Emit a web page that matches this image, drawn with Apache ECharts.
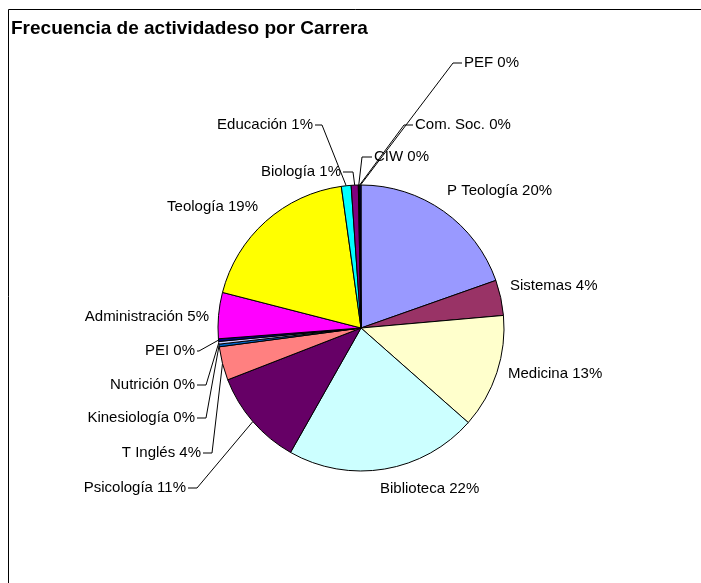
<!DOCTYPE html>
<html>
<head>
<meta charset="utf-8">
<script src="https://cdn.jsdelivr.net/npm/echarts@6/dist/echarts.min.js"></script>
<style>
  html, body { margin: 0; padding: 0; background: #fff; }
  #main { width: 701px; height: 583px; }
</style>
</head>
<body>
<div id="main"></div>
<script>
// carreras, en orden horario desde las 12
var carreras = ['P Teología', 'Sistemas', 'Medicina', 'Biblioteca', 'Psicología', 'T Inglés',
    'Kinesiología', 'Nutrición', 'PEI', 'Administración', 'Teología', 'Educación',
    'Biología', 'CIW', 'Com. Soc.', 'PEF'];
var actividades = [196, 40, 129, 217, 109, 38, 3, 3, 3, 52, 188, 11, 8, 1, 1, 1];
var colores = ['#9999FF', '#993366', '#FFFFCC', '#CCFFFF', '#660066', '#FF8080',
    '#0066CC', '#CCCCFF', '#000080', '#FF00FF', '#FFFF00', '#00FFFF',
    '#800080', '#800000', '#008080', '#0000FF'];

// donde van las etiquetas (como en la hoja original), codo de la linea guia
var etiquetas = {
    'P Teología':     {x: 447, y: 191, align: 'left'},
    'Sistemas':       {x: 510, y: 286, align: 'left'},
    'Medicina':       {x: 508, y: 374, align: 'left'},
    'Biblioteca':     {x: 380, y: 489, align: 'left'},
    'Psicología':     {x: 186, y: 488, align: 'right', codo: 197},
    'T Inglés':       {x: 201, y: 453, align: 'right', codo: 212},
    'Kinesiología':   {x: 195, y: 418, align: 'right', codo: 206},
    'Nutrición':      {x: 195, y: 385, align: 'right', codo: 206},
    'PEI':            {x: 195, y: 351, align: 'right', codo: 199},
    'Administración': {x: 209, y: 317, align: 'right'},
    'Teología':       {x: 258, y: 207, align: 'right'},
    'Educación':      {x: 313, y: 125, align: 'right', codo: 322},
    'Biología':       {x: 341, y: 172, align: 'right', codo: 353},
    'CIW':            {x: 374, y: 157, align: 'left', codo: 362},
    'Com. Soc.':      {x: 415, y: 125, align: 'left', codo: 404},
    'PEF':            {x: 464, y: 63, align: 'left', codo: 453}
};

var myChart = echarts.init(document.getElementById('main'));

var datos = carreras.map(function (c, i) {
    return {
        name: c,
        value: actividades[i],
        itemStyle: {color: colores[i]},
        labelLine: {show: etiquetas[c].codo !== undefined}
    };
});

var option = {
    backgroundColor: '#fff',
    animation: false,
    title: {
        text: 'Frecuencia de actividadeso por Carrera',
        left: 6,
        top: 14,
        textStyle: {
            fontFamily: 'Liberation Sans',
            fontSize: 19,
            fontWeight: 'bold',
            color: '#000'
        }
    },
    graphic: [{
        type: 'rect',
        shape: {x: 8.5, y: 9.5, width: 800, height: 700},
        style: {fill: 'none', stroke: '#000', lineWidth: 1}
    }],
    series: [{
        type: 'pie',
        center: [361, 328],
        radius: 143,
        startAngle: 90,
        clockwise: true,
        avoidLabelOverlap: false,
        percentPrecision: 0,
        itemStyle: {borderColor: '#000', borderWidth: 1},
        label: {
            show: true,
            position: 'outside',
            formatter: '{b} {d}%',
            fontFamily: 'Liberation Sans',
            fontSize: 15,
            color: '#000'
        },
        labelLine: {
            show: true,
            length: 10,
            length2: 10,
            lineStyle: {color: '#000', width: 1}
        },
        labelLayout: function (p) {
            var e = etiquetas[carreras[p.dataIndex]];
            var res = {x: e.x, y: e.y, align: e.align, verticalAlign: 'middle'};
            if (e.codo !== undefined && p.labelLinePoints) {
                var ini = p.labelLinePoints[0];
                var fin = e.align === 'right' ? e.x + 2 : e.x - 2;
                res.labelLinePoints = [ini, [e.codo, e.y], [fin, e.y]];
            }
            return res;
        },
        emphasis: {disabled: true},
        data: datos
    }]
};

myChart.setOption(option);
</script>
</body>
</html>
